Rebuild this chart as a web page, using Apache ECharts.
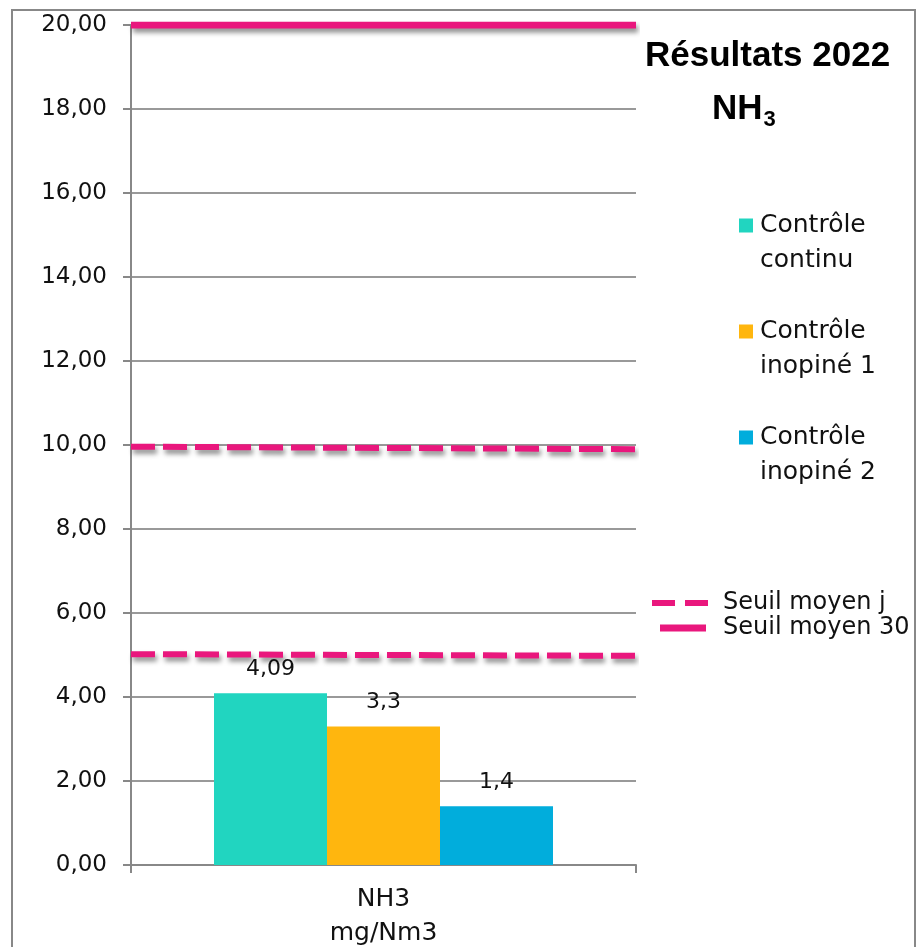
<!DOCTYPE html>
<html>
<head>
<meta charset="utf-8">
<script src="https://cdn.jsdelivr.net/npm/echarts@6/dist/echarts.min.js"></script>
<style>
html,body{margin:0;padding:0;background:#fff;}
#c{width:916px;height:947px;}
</style>
</head>
<body>
<div id="c"></div>
<script>
const categories = ['NH3\nmg/Nm3'];
const barSeriesNames = ['Contrôle\ncontinu', 'Contrôle\ninopiné 1', 'Contrôle\ninopiné 2'];
const barValues = [4.09, 3.3, 1.4];
const barColors = ['#21D5C0', '#FFB60E', '#01ADDC'];
const seuilJourName = 'Seuil moyen j';
const seuilJourA = [[0, 9.96], [1, 9.9]];
const seuilJourB = [[0, 5.02], [1, 4.98]];
const seuil30Name = 'Seuil moyen 30';
const seuil30 = [[0, 20], [1, 20]];
const yTicks = { min: 0, max: 20, interval: 2 };

const FONT = '"DejaVu Sans", sans-serif';
const TFONT = '"Liberation Sans", Arial, sans-serif';
const pink = '#E9177D';
const chart = echarts.init(document.getElementById('c'), null, { renderer: 'canvas' });

const barSeries = barSeriesNames.map((n, i) => ({
  name: n,
  type: 'bar',
  xAxisIndex: 0,
  barWidth: 113,
  barGap: '0%',
  itemStyle: { color: barColors[i] },
  label: {
    show: true, position: 'top', distance: 13,
    color: '#111', fontFamily: FONT, fontSize: 22,
    formatter: p => String(p.value).replace('.', ',')
  },
  data: [barValues[i]],
  z: 2
}));

const shadow = { shadowColor: 'rgba(0,0,0,0.45)', shadowBlur: 5, shadowOffsetX: 2, shadowOffsetY: 4 };

const lineSeries = [
  { name: seuilJourName, type: 'line', xAxisIndex: 1, symbol: 'none', data: seuilJourA,
    lineStyle: Object.assign({ color: pink, width: 6, type: [24, 8] }, shadow), itemStyle: { color: pink }, z: 5 },
  { name: seuilJourName, type: 'line', xAxisIndex: 1, symbol: 'none', data: seuilJourB,
    lineStyle: Object.assign({ color: pink, width: 6, type: [24, 8] }, shadow), itemStyle: { color: pink }, z: 5 },
  { name: seuil30Name, type: 'line', xAxisIndex: 1, symbol: 'none', data: seuil30,
    lineStyle: Object.assign({ color: pink, width: 7 }, shadow), itemStyle: { color: pink }, z: 5 }
];

const squareIcon = 'path://M0,0H14V14H0Z M0,49H14V49H0Z';

chart.setOption({
  animation: false,
  backgroundColor: '#fff',
  textStyle: { fontFamily: FONT },
  title: [
    {
      text: 'Résultats 2022', left: 640, top: 34,
      textStyle: { fontFamily: TFONT, fontWeight: 'bold', fontSize: 35, color: '#000' }
    },
    {
      text: '{b|NH}{s|3}', left: 707, top: 82,
      textStyle: {
        rich: {
          b: { fontFamily: TFONT, fontWeight: 'bold', fontSize: 35, color: '#000' },
          s: { fontFamily: TFONT, fontWeight: 'bold', fontSize: 22, color: '#000', verticalAlign: 'bottom', padding: [22, 0, 0, 1] }
        }
      }
    }
  ],
  legend: [
    {
      data: barSeriesNames.map(n => ({ name: n, icon: squareIcon })),
      orient: 'vertical', left: 739, top: 208, padding: 0,
      itemWidth: 14, itemHeight: 49, itemGap: 36,
      textStyle: { fontFamily: FONT, fontSize: 25, color: '#111', lineHeight: 35, padding: [0, 0, 0, 2] }
    },
    {
      data: [{ name: seuilJourName, icon: 'path://M0,0H23V6H0Z M33,0H56V6H33Z' }],
      orient: 'vertical', left: 652, top: 590, padding: 0,
      itemWidth: 56, itemHeight: 6,
      textStyle: { fontFamily: FONT, fontSize: 24, color: '#111', lineHeight: 26, padding: [0, 0, 0, 10] }
    },
    {
      data: [{ name: seuil30Name, icon: 'path://M0,0H46V7H0Z' }],
      orient: 'vertical', left: 660, top: 615, padding: 0,
      itemWidth: 46, itemHeight: 7,
      textStyle: { fontFamily: FONT, fontSize: 24, color: '#111', lineHeight: 26, padding: [0, 0, 0, 12] }
    }
  ],
  grid: { left: 131, right: 280, top: 25, bottom: 82, containLabel: false, outerBoundsMode: 'none' },
  xAxis: [
    {
      type: 'category', data: categories, boundaryGap: true,
      axisLine: { lineStyle: { color: '#888', width: 2 } },
      axisTick: { show: true, length: 8, lineStyle: { color: '#888', width: 2 } },
      axisLabel: { color: '#111', fontFamily: FONT, fontSize: 25, lineHeight: 34, margin: 17 }
    },
    { type: 'value', min: 0, max: 1, show: false }
  ],
  yAxis: {
    type: 'value', min: yTicks.min, max: yTicks.max, interval: yTicks.interval,
    axisLine: { show: true, lineStyle: { color: '#888', width: 2 } },
    axisTick: { show: true, length: 8, lineStyle: { color: '#888', width: 2 } },
    splitLine: { lineStyle: { color: '#999', width: 2 } },
    axisLabel: {
      color: '#111', fontFamily: FONT, fontSize: 23, margin: 24,
      formatter: v => v.toFixed(2).replace('.', ',')
    }
  },
  graphic: [
    { type: 'polyline', shape: { points: [[12, 947], [12, 10], [915, 10], [915, 947]] },
      style: { stroke: '#888', lineWidth: 2, fill: null }, silent: true }
  ],
  series: barSeries.concat(lineSeries)
});
</script>
</body>
</html>
